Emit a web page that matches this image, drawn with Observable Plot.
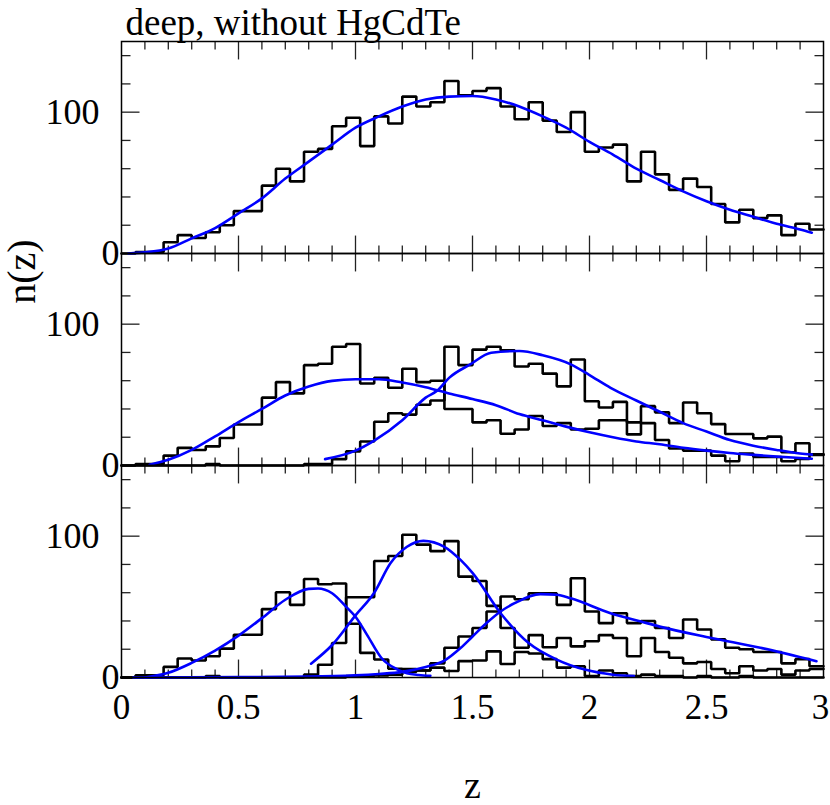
<!DOCTYPE html>
<html>
<head>
<meta charset="utf-8">
<script src="https://cdn.jsdelivr.net/npm/d3@7"></script>
<script src="https://cdn.jsdelivr.net/npm/@observablehq/plot@0.6"></script>
<style>
  html, body { margin: 0; padding: 0; background: #fff; }
  #chart { width: 830px; height: 805px; }
</style>
</head>
<body>
<div id="chart"></div>
<script>
// ---- DATA ----
const titleText = "deep, without HgCdTe";
const xLabelText = "z";
const yLabelText = "n(z)";

// histogram bin starts (bin width 0.06, last bin ends at 3)
const binStart = [0,0.06,0.12,0.18,0.24,0.3,0.36,0.42,0.48,0.54,0.6,0.66,0.72,0.78,0.84,0.9,0.96,1.02,1.08,1.14,1.2,1.26,1.32,1.38,1.44,1.5,1.56,1.62,1.68,1.74,1.8,1.86,1.92,1.98,2.04,2.1,2.16,2.22,2.28,2.34,2.4,2.46,2.52,2.58,2.64,2.7,2.76,2.82,2.88,2.94];
const binEnd = 3;

// panel 1: all galaxies
const histAll = [0,1,1,8,13,11,15,20,30,30, 48,60,51,72,74,90,96,76,97,92, 111,104,107,122,112,115,117,104,95,107, 94,86,100,72,75,77,51,72,56,45, 53,47,35,22,31,25,27,13,21,17];

// panel 2: two bins
const histLow2  = [0,1,1,7,12.5,11,13.5,19.5,29,29, 48,59,51,71,72,84,86,58,62,55, 68.5,59,60,40,40,30.5,32,22.5,25.5,35, 28,30,25.5,26,32,32,22,30,18,12, 10.5,10.5,7,3,8.5,6,6,3,4.7,7.5];
const histHigh2 = [0,0,0,0,0,0,1,0,0,0, 0,0,0,1,1,4.5,10,17,31,37, 36,43,46,84,71,82,84,81.5,70,72, 65,56,75,45.5,41,45,30.5,42,37.6,30, 44.6,37,29.3,22.3,22.3,19.2,20.4,9.4,15.7,8];

// panel 3: three bins
const histLow3  = [0,1.6,1.6,7.5,13.4,12,15,20.4,30.3,30.3, 48.4,60.3,51.4,69.7,66,66.5,38,17.4,12.7,6.2, 6,5,7,4.6,11.6,12,18.5,9.6,18,17, 13,7,8,1,5,3,1,2,1,1, 0,1,0,0,1,0,0,0,0,0];
const histMid3  = [0,0,0,0,0,0,1,0,0,0, 0,0,0,2,9,24.4,56.8,56.8,82.4,86, 101,94,89.4,96.5,71.4,68.3,50.7,35,21,30, 21.4,28,22,25.6,30,28,15,28,18,14, 10,11,6,3,8,5,6,2,5,6];
const histHigh3 = [0,0,0,0,0,0,0,0,0,0, 0,0,0,0,0,0,1,1,1.5,2, 4,5,10,21,29,35,46.7,57.3,55.4,59.6, 59.6,51.4,70.2,46.7,38.5,45.5,38.5,40,35,28, 41,34,27,21,20,18,18,10,13,8];

// fitted curves (z, n)
const fitAllZ = [0.03,0.1,0.2,0.3,0.4,0.5,0.6,0.7,0.8,0.9,1.0,1.1,1.2,1.3,1.4,1.5,1.6,1.7,1.8,1.9,2.0,2.1,2.2,2.3,2.4,2.5,2.6,2.7,2.8,2.9,2.95];
const fitAllN = [0,0.8,3.5,10.7,18,28.4,39,53,65,77,89,97,104,109,111,111.4,109,104,97,89,79,70,60,52,44,37,31,26,21,17,14.7];

const fitLow2Z = [0.12,0.2,0.3,0.4,0.5,0.6,0.7,0.8,0.9,1.0,1.1,1.2,1.3,1.4,1.5,1.6,1.7,1.8,1.9,2.0,2.1,2.2,2.3,2.4,2.5,2.6,2.7,2.8,2.9,2.95];
const fitLow2N = [0.5,4,11,20.6,30.7,40,49.5,55.9,59.9,61,61,58.7,55.4,51,47,42.7,36.4,32,27.5,23.5,20,17,15,12.5,10.5,8.8,7.5,6.3,5.3,4.8];

const fitHigh2Z = [0.87,1.0,1.08,1.2,1.3,1.35,1.4,1.49,1.58,1.7,1.8,1.92,2.0,2.09,2.2,2.3,2.4,2.5,2.6,2.7,2.8,2.9,2.95];
const fitHigh2N = [4.5,10.5,17.6,32,48,53,62,71.5,79.8,81,78,71.6,64,55,46,38,30,24,18,14,11,8.5,7.7];

const fitLow3Z = [0.1,0.2,0.3,0.4,0.5,0.6,0.7,0.8,0.84,0.9,0.96,1.0,1.05,1.11,1.18,1.22,1.27,1.32];
const fitLow3N = [0,3.3,10.3,19,29.6,42,55,62.7,63,59.6,50,43,30,14,5.6,3,1.8,1.2];

const fitMid3Z = [0.81,0.9,1.0,1.08,1.15,1.22,1.29,1.38,1.45,1.5,1.62,1.74,1.86,1.98,2.1,2.19];
const fitMid3N = [9.8,23,44,60,81,92.5,96.7,92.5,83,74,45.5,24.4,12.7,5.6,2,1];

const fitHigh3Z = [0.05,0.5,0.8,1.0,1.1,1.2,1.3,1.38,1.45,1.5,1.56,1.62,1.68,1.79,1.86,1.92,2.09,2.22,2.3,2.52,2.73,2.97];
const fitHigh3N = [0,0.3,0.6,1.5,2.5,4,7.5,12,21,29,38.5,46.7,52.6,59,58.5,56,45.5,39.6,36,28,21,11.5];

// axes
const xTickValues = [0,0.5,1,1.5,2,2.5,3];
const xTickLabels = ["0","0.5","1","1.5","2","2.5","3"];
const xMajorTicks = [0.5,1,1.5,2,2.5];
const xMinorTicks = [0.1,0.2,0.3,0.4,0.6,0.7,0.8,0.9,1.1,1.2,1.3,1.4,1.6,1.7,1.8,1.9,2.1,2.2,2.3,2.4,2.6,2.7,2.8,2.9];
const yMajorTicks = [100];
const yMinorTicks = [20,40,60,80,120,140];
const yTickValues = [0,100];
const yTickLabels = ["0","100"];
const panels = [1,2,3];

// ---- LAYOUT ----
const W = 830, H = 805;
const mL = 121, mR = 7, mT = 40, mB = 127;
const xMin = 0, xMax = 3, yMin = 0, yMax = 150;
const panelH = (H - mT - mB) / panels.length;
const pxPerY = panelH / (yMax - yMin);
const pxPerX = (W - mL - mR) / (xMax - xMin);
// tick lengths in px converted to data units
const xMajLen = 18 / pxPerY, xMinLen = 8 / pxPerY;
const yMajLen = 18 / pxPerX, yMinLen = 9 / pxPerX;

// ---- BUILD TABLES ----
function steps(vals, panel, series) {
  const pts = binStart.map((x, i) => ({x, n: vals[i], panel, series}));
  pts.push({x: binEnd, n: vals[vals.length - 1], panel, series});
  return pts;
}
function curve(zs, ns, panel, series) {
  return zs.map((z, i) => ({x: z, n: ns[i], panel, series}));
}
const histData = [
  ...steps(histAll, 1, "all"),
  ...steps(histLow2, 2, "low2"),
  ...steps(histHigh2, 2, "high2"),
  ...steps(histLow3, 3, "low3"),
  ...steps(histMid3, 3, "mid3"),
  ...steps(histHigh3, 3, "high3")
];
const fitData = [
  ...curve(fitAllZ, fitAllN, 1, "all"),
  ...curve(fitLow2Z, fitLow2N, 2, "low2"),
  ...curve(fitHigh2Z, fitHigh2N, 2, "high2"),
  ...curve(fitLow3Z, fitLow3N, 3, "low3"),
  ...curve(fitMid3Z, fitMid3N, 3, "mid3"),
  ...curve(fitHigh3Z, fitHigh3N, 3, "high3")
];
// tick segments as (x1,y1)-(x2,y2) rows in data units
const tickRows = panels.flatMap(p => [
  ...xMajorTicks.map(v => ({panel: p, x1: v, x2: v, y1: yMin, y2: yMin + xMajLen})),
  ...xMinorTicks.map(v => ({panel: p, x1: v, x2: v, y1: yMin, y2: yMin + xMinLen})),
  ...xMajorTicks.map(v => ({panel: p, x1: v, x2: v, y1: yMax, y2: yMax - xMajLen})),
  ...xMinorTicks.map(v => ({panel: p, x1: v, x2: v, y1: yMax, y2: yMax - xMinLen})),
  ...yMajorTicks.map(v => ({panel: p, x1: xMin, x2: xMin + yMajLen, y1: v, y2: v})),
  ...yMinorTicks.map(v => ({panel: p, x1: xMin, x2: xMin + yMinLen, y1: v, y2: v})),
  ...yMajorTicks.map(v => ({panel: p, x1: xMax, x2: xMax - yMajLen, y1: v, y2: v})),
  ...yMinorTicks.map(v => ({panel: p, x1: xMax, x2: xMax - yMinLen, y1: v, y2: v}))
]);
const yLabelRows = panels.flatMap(p => yTickValues.map((v, i) => ({panel: p, v, label: yTickLabels[i]})));
const xLabelRows = xTickValues.map((v, i) => ({panel: 3, v, label: xTickLabels[i]}));

const chart = Plot.plot({
  width: W,
  height: H,
  marginLeft: mL,
  marginRight: mR,
  marginTop: mT,
  marginBottom: mB,
  style: {fontFamily: "'Liberation Serif', 'Times New Roman', serif", background: "#fff", color: "#000", overflow: "visible"},
  x: {domain: [xMin, xMax], axis: null, label: null},
  y: {domain: [yMin, yMax], axis: null, label: null},
  fy: {domain: panels, padding: 0, axis: null, label: null},
  marks: [
    // inward ticks on all four sides of every panel
    Plot.link(tickRows, {fy: "panel", x1: "x1", y1: "y1", x2: "x2", y2: "y2", stroke: "#222", strokeWidth: 1.3}),
    // histograms
    Plot.line(histData, {x: "x", y: "n", z: "series", fy: "panel", curve: "step-after", stroke: "#000", strokeWidth: 2.6, strokeLinejoin: "miter"}),
    // fitted curves
    Plot.line(fitData, {x: "x", y: "n", z: "series", fy: "panel", curve: "monotone-x", stroke: "#0000ff", strokeWidth: 2.6}),
    Plot.frame({stroke: "#000", strokeWidth: 1.5}),
    // y tick labels
    Plot.text(yLabelRows.filter(d => d.v === 100), {fy: "panel", y: "v", text: "label", frameAnchor: "left", textAnchor: "end", dx: -22, fontSize: 36, lineAnchor: "middle", fill: "#000"}),
    Plot.text(yLabelRows.filter(d => d.v === 0), {fy: "panel", y: "v", text: "label", frameAnchor: "left", textAnchor: "end", dx: -2, fontSize: 36, lineAnchor: "middle", fill: "#000"}),
    // x tick labels
    Plot.text(xLabelRows.filter(d => d.v !== xMax), {fy: "panel", x: "v", text: "label", frameAnchor: "bottom", dy: 30, lineAnchor: "middle", fontSize: 35, fill: "#000"}),
    Plot.text(xLabelRows.filter(d => d.v === xMax), {fy: "panel", x: "v", text: "label", frameAnchor: "bottom", dy: 30, dx: -3, lineAnchor: "middle", fontSize: 35, fill: "#000"}),
    // axis titles
    Plot.text([{panel: 3, t: xLabelText}], {fy: "panel", x: () => 1.5, text: "t", frameAnchor: "bottom", dy: 108, lineAnchor: "middle", fontSize: 38, fill: "#000"}),
    Plot.text([{panel: 2, t: yLabelText}], {fy: "panel", text: "t", frameAnchor: "top-left", dx: -99, dy: 18, rotate: -90, lineAnchor: "middle", textAnchor: "middle", fontSize: 40, fill: "#000"}),
    // title
    Plot.text([{panel: 1, t: titleText}], {fy: "panel", text: "t", frameAnchor: "top-left", textAnchor: "start", lineAnchor: "bottom", dx: 4, dy: -7, fontSize: 37, fill: "#000"})
  ]
});
document.getElementById("chart").appendChild(chart);
</script>
</body>
</html>
